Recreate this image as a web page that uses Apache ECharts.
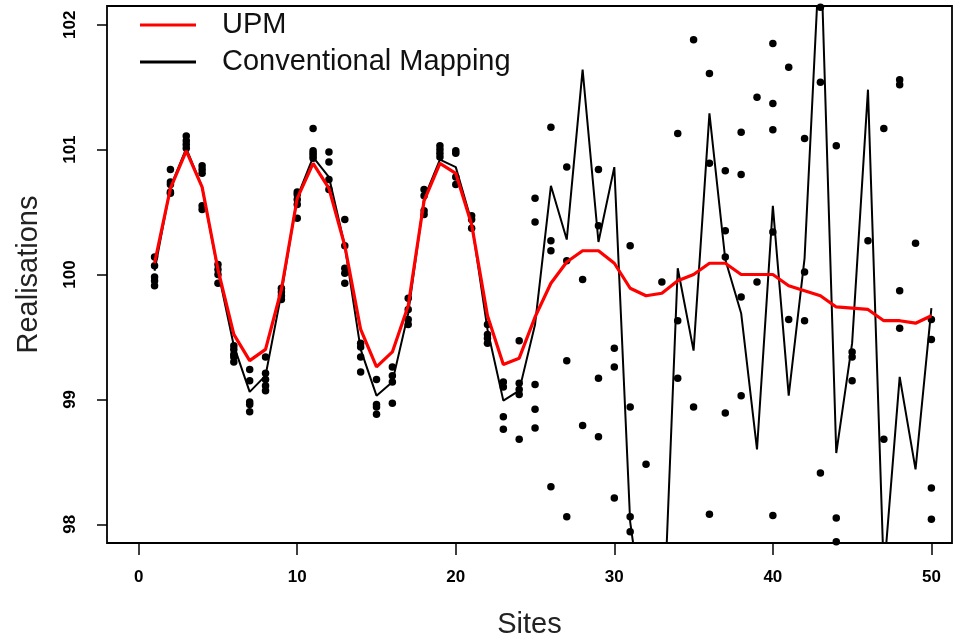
<!DOCTYPE html>
<html>
<head>
<meta charset="utf-8">
<script src="https://cdn.jsdelivr.net/npm/echarts@6/dist/echarts.min.js"></script>
<style>html,body{margin:0;padding:0;background:#fff}#c{width:955px;height:644px}</style>
</head>
<body>
<div id="c"></div>
<script>
const sites = [1,2,3,4,5,6,7,8,9,10,11,12,13,14,15,16,17,18,19,20,21,22,23,24,25,26,27,28,29,30,31,32,33,34,35,36,37,38,39,40,41,42,43,44,45,46,47,48,49,50];
const upm = [100.09,100.69,100.99,100.70,100.04,99.52,99.31,99.40,99.88,100.61,100.89,100.69,100.23,99.56,99.26,99.38,99.75,100.59,100.89,100.81,100.40,99.67,99.28,99.33,99.66,99.93,100.10,100.19,100.19,100.09,99.89,99.83,99.85,99.95,100.00,100.09,100.09,100.00,100.00,100.00,99.91,99.87,99.83,99.74,99.73,99.72,99.63,99.63,99.61,99.67];
const conventional = [100.03,100.70,101.01,100.70,100.03,99.43,99.06,99.19,99.85,100.62,100.94,100.78,100.23,99.40,99.03,99.14,99.69,100.61,100.92,100.86,100.42,99.56,98.99,99.07,99.60,100.71,100.28,101.64,100.26,100.86,98.02,97.10,96.87,100.05,99.39,101.29,100.12,99.69,98.60,100.55,99.03,100.13,102.70,98.57,99.45,101.48,97.60,99.18,98.44,99.73];
const realisations = [
  [100.14,100.07,99.98,99.95,99.91],
  [100.84,100.74,100.72,100.66,100.65],
  [101.11,101.07,101.04,101.01],
  [100.87,100.84,100.81,100.55,100.52],
  [100.08,100.04,100.00,99.93],
  [99.43,99.40,99.36,99.34,99.30],
  [99.24,99.15,98.98,98.96,98.90],
  [99.34,99.21,99.16,99.11,99.07],
  [99.89,99.86,99.83,99.80],
  [100.66,100.64,100.60,100.56,100.45],
  [101.17,100.99,100.97,100.95,100.93],
  [100.98,100.90,100.76,100.68],
  [100.44,100.23,100.05,100.01,99.93],
  [99.45,99.42,99.34,99.22],
  [99.16,98.96,98.94,98.88],
  [99.26,99.19,99.14,98.97],
  [99.81,99.72,99.64,99.60],
  [100.68,100.63,100.51,100.48],
  [101.03,101.00,100.97,100.94],
  [100.99,100.97,100.78,100.72],
  [100.47,100.44,100.37],
  [99.60,99.52,99.49,99.45],
  [99.14,99.10,98.86,98.76],
  [99.47,99.13,99.08,99.04,98.68],
  [100.61,100.42,99.12,98.92,98.77],
  [101.18,100.27,100.19,98.30],
  [100.86,100.11,99.31,98.06],
  [99.96,98.79],
  [100.84,100.39,99.17,98.70],
  [99.41,99.26,98.21],
  [100.23,98.94,98.06,97.94],
  [98.48],
  [99.94],
  [101.13,99.63,99.17],
  [101.88,98.94],
  [101.61,100.89,98.08],
  [100.83,100.35,100.14,98.89],
  [101.14,100.80,99.82,99.03],
  [101.42,99.94],
  [101.85,101.37,101.16,100.34,98.07],
  [101.66,99.64],
  [101.09,100.02,99.63],
  [102.14,101.54,98.41],
  [101.03,98.05,97.86],
  [99.38,99.34,99.15],
  [100.27],
  [101.17,98.68],
  [101.56,101.52,99.87,99.57],
  [100.25],
  [99.64,99.48,98.29,98.04]
];
const xTicks = [0,10,20,30,40,50];
const yTicks = [98,99,100,101,102];

const dots = [];
realisations.forEach((vals, i) => vals.forEach(v => dots.push([sites[i], v])));

const tickFont = {fontFamily: "'Liberation Sans',Arial,sans-serif", fontWeight: 'bold', fontSize: 17, color: '#000'};
const titleFont = {fontSize: 29, fontFamily: "'Liberation Sans',Arial,sans-serif", color: '#222'};

const chart = echarts.init(document.getElementById('c'), null, {renderer: 'canvas'});
chart.setOption({
  animation: false,
  backgroundColor: '#fff',
  grid: {left: 107, right: 3, top: 6, bottom: 99, show: true, borderColor: '#000', borderWidth: 1.8, backgroundColor: 'transparent', containLabel: false},
  legend: {
    data: [{name: 'UPM', icon: 'rect'}, {name: 'Conventional Mapping', icon: 'rect'}],
    orient: 'vertical', left: 140, top: 10, padding: 0,
    itemWidth: 56, itemHeight: 3, itemGap: 7,
    textStyle: {fontSize: 29, lineHeight: 30, fontFamily: "'Liberation Sans',Arial,sans-serif", color: '#111', padding: [0,0,0,21]}
  },
  xAxis: {
    type: 'value', min: -2, max: 51.3,
    name: 'Sites', nameLocation: 'middle', nameGap: 67,
    nameTextStyle: titleFont,
    splitLine: {show: false},
    axisLine: {show: false, onZero: false},
    axisTick: {show: true, length: 12, customValues: xTicks, lineStyle: {color: '#000', width: 1.5}},
    axisLabel: {customValues: xTicks, margin: 26, ...tickFont}
  },
  yAxis: {
    type: 'value', min: 97.85, max: 102.15,
    name: 'Realisations', nameLocation: 'middle', nameGap: 64,
    nameTextStyle: titleFont,
    splitLine: {show: false},
    axisLine: {show: false, onZero: false},
    axisTick: {show: true, length: 10, customValues: yTicks, lineStyle: {color: '#000', width: 1.5}},
    axisLabel: {customValues: yTicks, rotate: 90, margin: 28, ...tickFont}
  },
  series: [
    {type: 'scatter', data: dots, symbol: 'circle', symbolSize: 7.5, itemStyle: {color: '#000', opacity: 1}, clip: true, z: 3},
    {name: 'Conventional Mapping', type: 'line', data: sites.map((s, i) => [s, conventional[i]]), symbol: 'none', clip: true,
     lineStyle: {color: '#000', width: 2}, itemStyle: {color: '#000'}, z: 4},
    {name: 'UPM', type: 'line', data: sites.map((s, i) => [s, upm[i]]), symbol: 'none', clip: true,
     lineStyle: {color: '#ff0000', width: 3.2}, itemStyle: {color: '#ff0000'}, z: 5}
  ]
});
</script>
</body>
</html>
